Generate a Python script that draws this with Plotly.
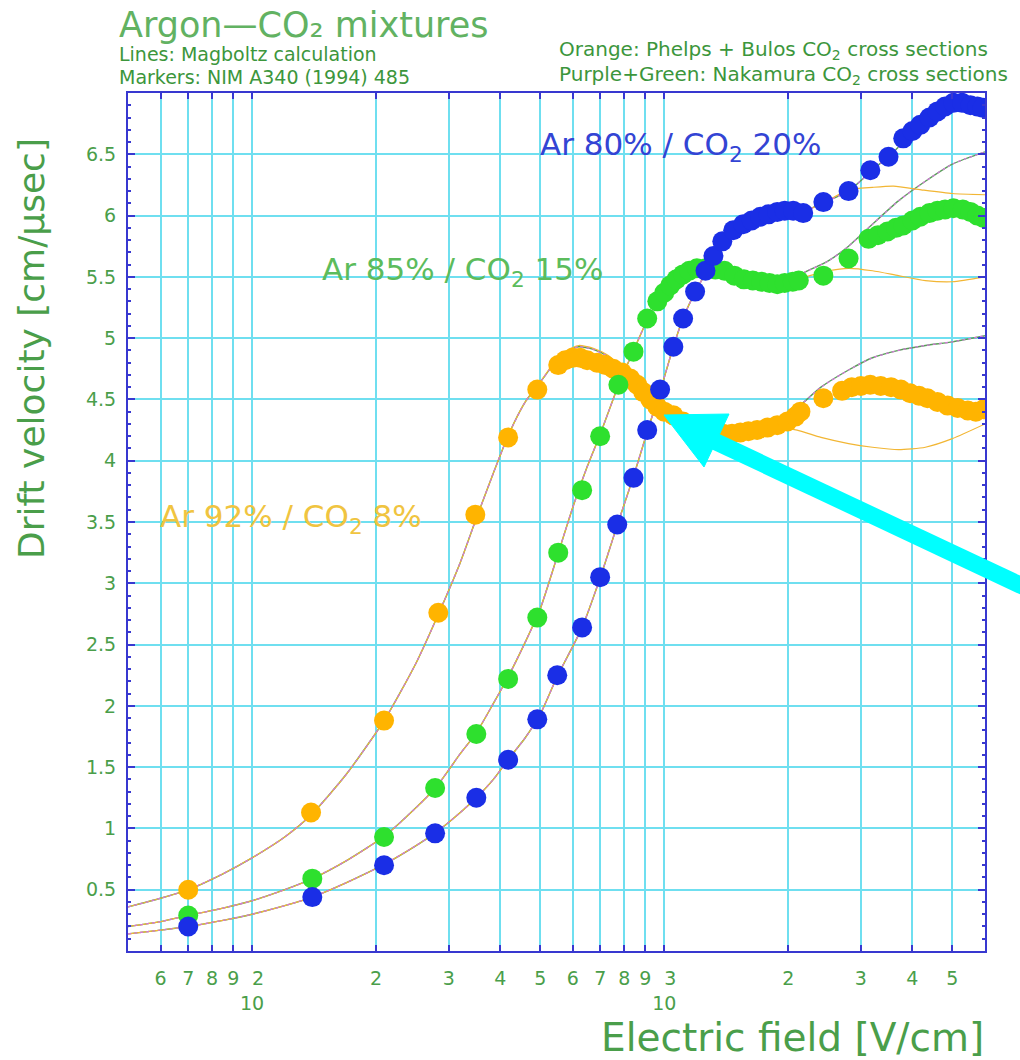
import plotly.graph_objects as go

# ---------------- data ----------------
# Markers: measured drift velocities [cm/us] vs electric field [V/cm]
E_m92 = [70, 139, 209, 283, 348, 418, 492, 553, 575, 600, 625, 650, 687, 720, 752, 790,
         827, 860, 889, 925, 962, 1000, 1052, 1110, 1170, 1240, 1310, 1390, 1460, 1530,
         1600, 1680, 1780, 1880, 1990, 2080, 2140, 2432, 2700, 2850, 3000, 3160, 3350,
         3550, 3750, 3950, 4150, 4350, 4600, 4870, 5150, 5450, 5700, 5950]
v_m92 = [0.50, 1.13, 1.88, 2.76, 3.56, 4.19, 4.58, 4.78, 4.82, 4.84, 4.84, 4.82, 4.80, 4.78,
         4.75, 4.72, 4.67, 4.62, 4.56, 4.50, 4.44, 4.40, 4.37, 4.32, 4.29, 4.26, 4.24, 4.22,
         4.22, 4.23, 4.24, 4.25, 4.27, 4.29, 4.32, 4.36, 4.40, 4.51, 4.57, 4.60, 4.61, 4.62,
         4.61, 4.60, 4.58, 4.55, 4.53, 4.51, 4.48, 4.45, 4.43, 4.41, 4.40, 4.42]

E_m85 = [70, 140, 209, 278, 350, 418, 492, 553, 632, 699, 774, 842, 909, 962, 1000, 1034,
         1070, 1110, 1150, 1200, 1260, 1330, 1400, 1480, 1560, 1640, 1720, 1800, 1880,
         1960, 2050, 2120, 2432, 2800, 3130, 3300, 3480, 3650, 3800, 4000, 4180, 4400,
         4600, 4800, 5030, 5300, 5530, 5750, 5950]
v_m85 = [0.29, 0.59, 0.93, 1.33, 1.77, 2.22, 2.72, 3.25, 3.76, 4.20, 4.62, 4.89, 5.16, 5.30,
         5.37, 5.43, 5.48, 5.52, 5.55, 5.57, 5.57, 5.56, 5.55, 5.51, 5.48, 5.47, 5.46, 5.45,
         5.44, 5.45, 5.46, 5.47, 5.51, 5.65, 5.81, 5.84, 5.87, 5.90, 5.92, 5.96, 5.99, 6.02,
         6.04, 6.05, 6.06, 6.05, 6.03, 6.00, 5.98]

E_m80 = [70, 140, 209, 278, 350, 418, 492, 550, 632, 699, 769, 842, 909, 977, 1052, 1111,
         1188, 1259, 1316, 1383, 1470, 1555, 1630, 1710, 1790, 1880, 1960, 2055, 2173,
         2432, 2800, 3162, 3500, 3800, 4000, 4180, 4400, 4600, 4800, 5030, 5280, 5530,
         5750, 5920]
v_m80 = [0.20, 0.44, 0.70, 0.96, 1.25, 1.56, 1.89, 2.25, 2.64, 3.05, 3.48, 3.86, 4.25, 4.58,
         4.93, 5.16, 5.38, 5.55, 5.67, 5.79, 5.88, 5.93, 5.96, 5.99, 6.01, 6.03, 6.04, 6.04,
         6.02, 6.11, 6.20, 6.37, 6.48, 6.63, 6.69, 6.74, 6.80, 6.85, 6.89, 6.92, 6.92, 6.90,
         6.89, 6.88]

# Lines: Magboltz calculations (Phelps+Bulos = orange, Nakamura = purple+green)
E_l92 = [50, 60, 70, 85, 100, 120, 140, 170, 210, 250, 285, 320, 350, 385, 420, 460, 500,
         540, 580, 620, 670, 730, 800, 880, 960, 1050, 1150, 1300, 1500, 1700, 1900, 2100,
         2400, 2800, 3200, 3700, 4300, 5000, 6000]
v_l92_phelps = [0.36, 0.43, 0.50, 0.63, 0.76, 0.93, 1.12, 1.45, 1.89, 2.35, 2.77, 3.17, 3.53,
                3.90, 4.22, 4.48, 4.64, 4.80, 4.90, 4.94, 4.92, 4.86, 4.74, 4.60, 4.47, 4.38,
                4.32, 4.27, 4.25, 4.26, 4.27, 4.25, 4.19, 4.14, 4.11, 4.09, 4.11, 4.18, 4.30]
v_l92_nakamura = [0.36, 0.43, 0.50, 0.63, 0.76, 0.93, 1.12, 1.45, 1.89, 2.35, 2.77, 3.17, 3.53,
                  3.90, 4.22, 4.48, 4.64, 4.79, 4.89, 4.93, 4.91, 4.85, 4.73, 4.59, 4.46, 4.37,
                  4.31, 4.27, 4.25, 4.27, 4.33, 4.43, 4.60, 4.74, 4.84, 4.90, 4.94, 4.97, 5.02]

E_l85 = [50, 60, 70, 85, 100, 120, 140, 170, 210, 250, 280, 320, 350, 385, 420, 460, 500,
         550, 600, 650, 700, 775, 840, 910, 960, 1030, 1100, 1180, 1300, 1450, 1600, 1800,
         2000, 2200, 2500, 2800, 3200, 3700, 4300, 5000, 6000]
v_l85_phelps = [0.20, 0.24, 0.29, 0.35, 0.41, 0.50, 0.59, 0.74, 0.94, 1.17, 1.34, 1.61, 1.78,
                2.02, 2.25, 2.52, 2.79, 3.22, 3.62, 3.95, 4.22, 4.62, 4.89, 5.15, 5.29, 5.42,
                5.50, 5.55, 5.56, 5.52, 5.48, 5.46, 5.47, 5.50, 5.55, 5.57, 5.55, 5.51, 5.47,
                5.46, 5.50]
v_l85_nakamura = [0.20, 0.24, 0.29, 0.35, 0.41, 0.50, 0.59, 0.74, 0.94, 1.17, 1.34, 1.61, 1.78,
                  2.02, 2.25, 2.52, 2.79, 3.22, 3.62, 3.95, 4.22, 4.62, 4.89, 5.15, 5.29, 5.42,
                  5.50, 5.55, 5.56, 5.52, 5.48, 5.46, 5.47, 5.54, 5.63, 5.75, 5.93, 6.12, 6.28,
                  6.42, 6.52]

E_l80 = [50, 60, 70, 85, 100, 120, 140, 170, 210, 250, 280, 320, 350, 385, 420, 460, 500,
         550, 630, 700, 770, 840, 910, 980, 1050, 1110, 1190, 1280, 1380, 1550, 1710, 1880,
         2050, 2200, 2450, 2800, 3200, 3600, 4200, 5000, 6000]
v_l80_phelps = [0.14, 0.17, 0.20, 0.25, 0.30, 0.37, 0.44, 0.56, 0.71, 0.86, 0.97, 1.13, 1.25,
                1.40, 1.57, 1.74, 1.93, 2.24, 2.63, 3.05, 3.48, 3.86, 4.24, 4.58, 4.92, 5.16,
                5.38, 5.57, 5.78, 5.93, 5.99, 6.03, 6.04, 6.04, 6.11, 6.21, 6.23, 6.24, 6.21,
                6.18, 6.17]
v_l80_nakamura = [0.14, 0.17, 0.20, 0.25, 0.30, 0.37, 0.44, 0.56, 0.71, 0.86, 0.97, 1.13, 1.25,
                  1.40, 1.57, 1.74, 1.93, 2.24, 2.63, 3.05, 3.48, 3.86, 4.24, 4.58, 4.92, 5.16,
                  5.38, 5.57, 5.78, 5.93, 5.99, 6.03, 6.04, 6.04, 6.11, 6.20, 6.37, 6.52, 6.74,
                  6.91, 6.88]

# axis ticks
NB = "\u00a0"
x_tickvals = [60, 70, 80, 90, 100, 200, 300, 400, 500, 600, 700, 800, 900,
              1000, 2000, 3000, 4000, 5000]
x_ticktext = ["6", "7", "8", "9", NB * 2 + "2<br>10",
              "2", "3", "4", "5", "6", "7", "8", "9",
              NB * 2 + "3<br>10", "2", "3", "4", "5"]
y_tickvals = [0.5, 1, 1.5, 2, 2.5, 3, 3.5, 4, 4.5, 5, 5.5, 6, 6.5]
y_ticktext = ["0.5", "1", "1.5", "2", "2.5", "3", "3.5", "4", "4.5", "5", "5.5", "6", "6.5"]

# ---------------- styling ----------------
FONT = "DejaVu Sans"
C_ORANGE = "#ffb400"
C_GREEN = "#2ee02e"
C_BLUE = "#1a2ee6"
C_LORANGE = "#f2b634"
C_LGREEN = "#55a055"
C_PURPLE = "#d27ad8"
C_GRID = "#6fdff0"
C_FRAME = "#3838d0"
C_TEXT = "#4a9e4a"

W, H = 1020, 1060
ML, MR, MT, MB = 128, 35, 93, 109
PW, PH = W - ML - MR, H - MT - MB


def px(x):
    return (x - ML) / PW


def py(y):
    return (H - MB - y) / PH


fig = go.Figure()

line_sets = [
    (E_l92, v_l92_phelps, v_l92_nakamura),
    (E_l85, v_l85_phelps, v_l85_nakamura),
    (E_l80, v_l80_phelps, v_l80_nakamura),
]
for E, vp, vn in line_sets:
    fig.add_trace(go.Scatter(x=E, y=vn, mode="lines",
                             line=dict(color=C_LGREEN, width=1.4, shape="spline", smoothing=0.6),
                             hoverinfo="skip", showlegend=False))
    fig.add_trace(go.Scatter(x=E, y=vp, mode="lines",
                             line=dict(color=C_LORANGE, width=1.2, shape="spline", smoothing=0.6),
                             hoverinfo="skip", showlegend=False))
    fig.add_trace(go.Scatter(x=E, y=vn, mode="lines",
                             line=dict(color=C_PURPLE, width=1.3, dash="dot", shape="spline",
                                       smoothing=0.6),
                             hoverinfo="skip", showlegend=False))

for E, v, c, name in [(E_m92, v_m92, C_ORANGE, "Ar 92% / CO2 8%"),
                      (E_m85, v_m85, C_GREEN, "Ar 85% / CO2 15%"),
                      (E_m80, v_m80, C_BLUE, "Ar 80% / CO2 20%")]:
    fig.add_trace(go.Scatter(x=E, y=v, mode="markers", name=name,
                             marker=dict(color=c, size=20, line=dict(width=0)),
                             showlegend=False))

annotations = [
    dict(text="Argon\u2014CO\u2082 mixtures", x=px(117), y=py(25), xanchor="left",
         yanchor="middle", font=dict(size=35, color="#62b262")),
    dict(text="Lines: Magboltz calculation", x=px(117), y=py(54), xanchor="left",
         yanchor="middle", font=dict(size=19, color="#3c963c")),
    dict(text="Markers: NIM A340 (1994) 485", x=px(117), y=py(77), xanchor="left",
         yanchor="middle", font=dict(size=19, color="#3c963c")),
    dict(text="Orange: Phelps + Bulos CO<sub>2</sub> cross sections", x=px(557), y=py(50),
         xanchor="left", yanchor="middle", font=dict(size=20, color="#3c963c")),
    dict(text="Purple+Green: Nakamura CO<sub>2</sub> cross sections", x=px(557), y=py(75),
         xanchor="left", yanchor="middle", font=dict(size=20, color="#3c963c")),
    dict(text="Ar 80% / CO<sub>2</sub> 20%", x=px(538), y=py(147), xanchor="left",
         yanchor="middle", font=dict(size=31, color="#3344d4")),
    dict(text="Ar 85% / CO<sub>2</sub> 15%", x=px(320), y=py(271), xanchor="left",
         yanchor="middle", font=dict(size=31, color="#5cbc5c")),
    dict(text="Ar 92% / CO<sub>2</sub> 8%", x=px(158), y=py(518), xanchor="left",
         yanchor="middle", font=dict(size=31, color="#f0c440")),
    dict(text="Drift velocity [cm/\u00b5sec]", x=px(31), y=py(349), xanchor="center",
         yanchor="middle", textangle=-90, font=dict(size=36, color=C_TEXT)),
    dict(text="Electric field [V/cm]", x=px(986), y=py(1037), xanchor="right",
         yanchor="middle", font=dict(size=39, color=C_TEXT)),
]
for a in annotations:
    a.update(xref="paper", yref="paper", showarrow=False)

# cyan arrow (decoration)
shapes = [
    dict(type="line", xref="paper", yref="paper",
         x0=px(712), y0=py(440), x1=px(1035), y1=py(592),
         line=dict(color="#00ffff", width=17)),
    dict(type="path", xref="paper", yref="paper",
         path=f"M {px(664)} {py(415)} L {px(729)} {py(414)} L {px(704)} {py(467)} Z",
         fillcolor="#00ffff", line=dict(color="#00ffff", width=1)),
]

fig.update_layout(
    width=W, height=H,
    margin=dict(l=ML, r=MR, t=MT, b=MB),
    paper_bgcolor="white", plot_bgcolor="white",
    font=dict(family=FONT, color=C_TEXT),
    annotations=annotations, shapes=shapes,
    showlegend=False,
)
fig.update_xaxes(
    type="log", range=[1.69897, 3.77815],
    tickvals=x_tickvals, ticktext=x_ticktext, tickangle=0,
    tickfont=dict(size=19, color=C_TEXT, family=FONT),
    showgrid=True, gridcolor=C_GRID, gridwidth=1.5,
    showline=True, linecolor=C_FRAME, linewidth=2, mirror="ticks",
    ticks="inside", ticklen=6, tickcolor=C_FRAME, tickwidth=1.5,
    ticklabelstandoff=9, zeroline=False,
)
fig.update_yaxes(
    range=[0, 7.0],
    tickvals=y_tickvals, ticktext=y_ticktext,
    tickfont=dict(size=19, color=C_TEXT, family=FONT),
    showgrid=True, gridcolor=C_GRID, gridwidth=1.5,
    showline=True, linecolor=C_FRAME, linewidth=2, mirror="ticks",
    ticks="inside", ticklen=7, tickcolor=C_FRAME, tickwidth=1.5,
    minor=dict(dtick=0.1, ticks="inside", ticklen=3, tickcolor=C_FRAME, showgrid=False),
    ticklabelstandoff=6, zeroline=False,
)

fig.write_html("out.html")
